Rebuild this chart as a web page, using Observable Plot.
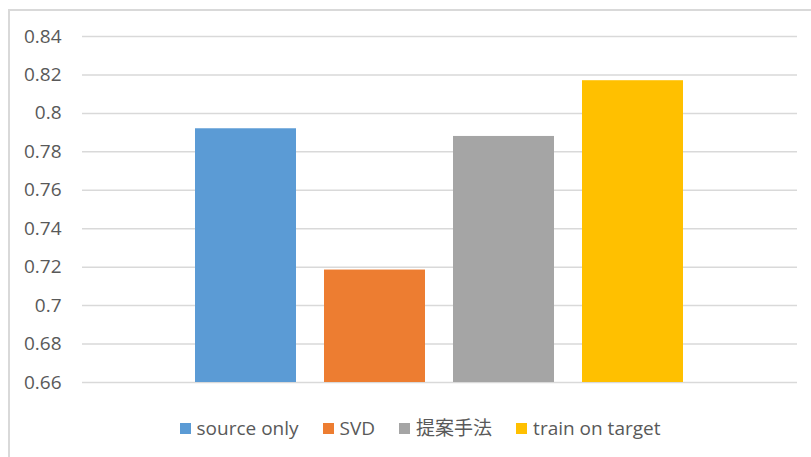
<!DOCTYPE html>
<html>
<head>
<meta charset="utf-8">
<script src="https://cdn.jsdelivr.net/npm/d3@7"></script>
<script src="https://cdn.jsdelivr.net/npm/@observablehq/plot@0.6"></script>
<style>
  html, body { margin: 0; padding: 0; background: #fff; overflow: hidden; }
  body { width: 811px; height: 457px; position: relative; font-family: "Open Sans", "Noto Sans CJK JP", sans-serif; }
  #frame { position: absolute; left: 8px; top: 9px; width: 900px; height: 500px; border: 2px solid #d9d9d9; box-sizing: border-box; }
  #chart { position: absolute; left: 0; top: 0; }
  #legend { position: absolute; left: 0; top: 418px; width: 840px; display: flex; justify-content: center; align-items: center; font-size: 19px; line-height: 20px; color: #595959; }
  .item { display: flex; align-items: center; margin: 0 12px; }
  .sw { width: 11px; height: 11px; margin-right: 6px; }
</style>
</head>
<body>
<div id="frame"></div>
<div id="chart"></div>
<div id="legend"></div>
<script>
const categories = ["source only", "SVD", "提案手法", "train on target"];
const values = [0.792, 0.7185, 0.788, 0.817];
const colors = ["#5B9BD5", "#ED7D31", "#A5A5A5", "#FFC000"];
const yTicks = [0.66, 0.68, 0.70, 0.72, 0.74, 0.76, 0.78, 0.80, 0.82, 0.84];

const data = categories.map((c, i) => ({category: c, value: values[i]}));
const yMin = yTicks[0], yMax = yTicks[yTicks.length - 1];
const fmt = d => String(+d.toFixed(2));

const plot = Plot.plot({
  width: 811,
  height: 400,
  marginTop: 36,
  marginBottom: 18,
  marginLeft: 82,
  marginRight: 14,
  style: {fontFamily: "'Open Sans', sans-serif", fontSize: "19px", color: "#595959", background: "transparent"},
  x: {domain: categories, paddingInner: 0.215, paddingOuter: 0.86, axis: null},
  y: {domain: [yMin, yMax], axis: null},
  color: {domain: categories, range: colors},
  marks: [
    Plot.ruleY(yTicks, {stroke: "#d9d9d9", strokeWidth: 1.5}),
    Plot.barY(data, {x: "category", y1: yMin, y2: "value", fill: "category"}),
    Plot.axisY({ticks: yTicks, tickFormat: fmt, tickSize: 0, tickPadding: 21, label: null, fill: "#595959", fontSize: 19})
  ]
});
document.getElementById("chart").appendChild(plot);

const legend = document.getElementById("legend");
categories.forEach((c, i) => {
  const item = document.createElement("div");
  item.className = "item";
  const sw = document.createElement("div");
  sw.className = "sw";
  sw.style.background = colors[i];
  const t = document.createElement("span");
  t.textContent = c;
  item.appendChild(sw);
  item.appendChild(t);
  legend.appendChild(item);
});
</script>
</body>
</html>
